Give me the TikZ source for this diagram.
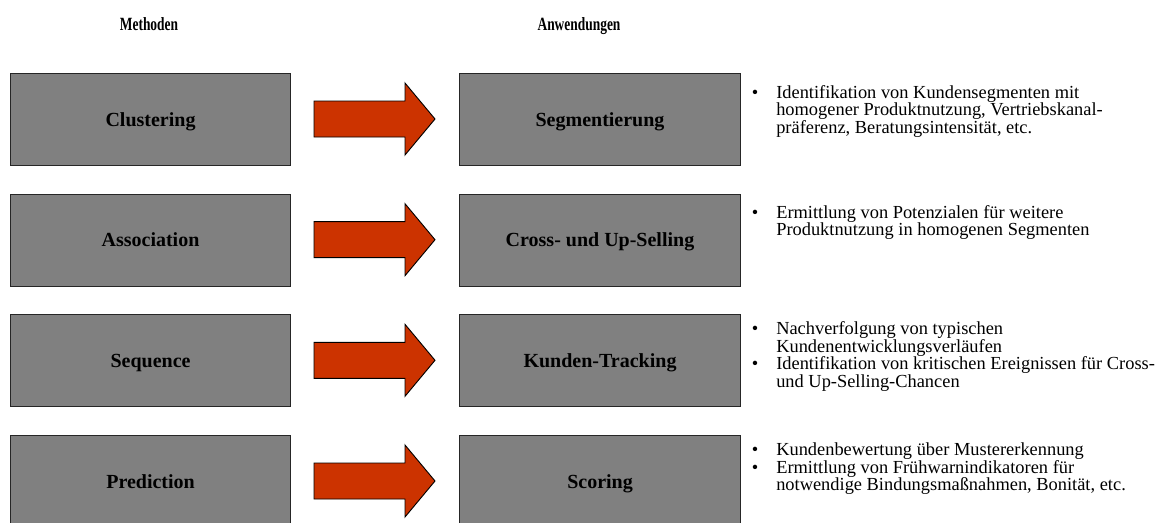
\documentclass[tikz,border=0pt]{standalone}
\usepackage{fontspec}
\setmainfont{Liberation Serif}
\definecolor{boxgray}{HTML}{808080}
\definecolor{arrowred}{HTML}{CC3300}
\newcommand{\condensed}[1]{\scalebox{0.72}[1]{#1}}
\begin{document}
\begin{tikzpicture}[x=0.75pt,y=-0.75pt,
  lbox/.style={draw=black!85, line width=0.8pt, fill=boxgray, inner sep=0pt,
    minimum width=210pt, minimum height=69pt, anchor=north west,
    font=\fontsize{15}{17}\selectfont\bfseries, text height=9.9pt, text depth=0pt},
  rbox/.style={lbox, minimum width=210.75pt},
  head/.style={font=\fontsize{14}{16}\selectfont\bfseries, inner sep=0pt, anchor=base},
  blockarrow/.style={draw=black, line width=0.7pt, fill=arrowred, line join=miter},
  bul/.style={font=\fontsize{13.8}{15}\selectfont, inner sep=0pt, anchor=base},
  txt/.style={font=\fontsize{13.8}{15}\selectfont, inner sep=0pt, anchor=base west}]
\useasboundingbox (0,0) rectangle (1158,522);
\clip (0,0) rectangle (1158,522);

\node[head] (h1) at (149,30) {\condensed{Methoden}};
\node[head] (h2) at (579,30) {\condensed{Anwendungen}};

\node[lbox] (m1) at (10,73) {Clustering};
\node[lbox] (m2) at (10,193.7) {Association};
\node[lbox] (m3) at (10,314.3) {Sequence};
\node[lbox] (m4) at (10,435) {Prediction};

\node[rbox] (a1) at (459,73) {Segmentierung};
\node[rbox] (a2) at (459,193.7) {Cross- und Up-Selling};
\node[rbox] (a3) at (459,314.3) {Kunden-Tracking};
\node[rbox] (a4) at (459,435) {Scoring};

\foreach \t in {73,193.7,314.3,435}{
  \draw[blockarrow] (314,{\t+28}) -- (405,{\t+28}) -- (405,{\t+10}) -- (435,{\t+46})
    -- (405,{\t+82}) -- (405,{\t+64}) -- (314,{\t+64}) -- cycle;
}

% row 1
\node[bul] (b1) at (755,98) {•};
\node[txt] (t1a) at (776,98) {Identifikation von Kundensegmenten mit};
\node[txt] (t1b) at (776,115.5) {homogener Produktnutzung, Vertriebskanal-};
\node[txt] (t1c) at (776,133) {präferenz, Beratungsintensität, etc.};
% row 2
\node[bul] (b2) at (755,218) {•};
\node[txt] (t2a) at (776,218) {Ermittlung von Potenzialen für weitere};
\node[txt] (t2b) at (776,235.5) {Produktnutzung in homogenen Segmenten};
% row 3
\node[bul] (b3) at (755,334.5) {•};
\node[txt] (t3a) at (776,334.5) {Nachverfolgung von typischen};
\node[txt] (t3b) at (776,352) {Kundenentwicklungsverläufen};
\node[bul] (b4) at (755,369.5) {•};
\node[txt] (t3c) at (776,369.5) {Identifikation von kritischen Ereignissen für Cross-};
\node[txt] (t3d) at (776,387) {und Up-Selling-Chancen};
% row 4
\node[bul] (b5) at (755,455.5) {•};
\node[txt] (t4a) at (776,455.5) {Kundenbewertung über Mustererkennung};
\node[bul] (b6) at (755,473) {•};
\node[txt] (t4b) at (776,473) {Ermittlung von Frühwarnindikatoren für};
\node[txt] (t4c) at (776,490.5) {notwendige Bindungsmaßnahmen, Bonität, etc.};
\end{tikzpicture}
\end{document}
